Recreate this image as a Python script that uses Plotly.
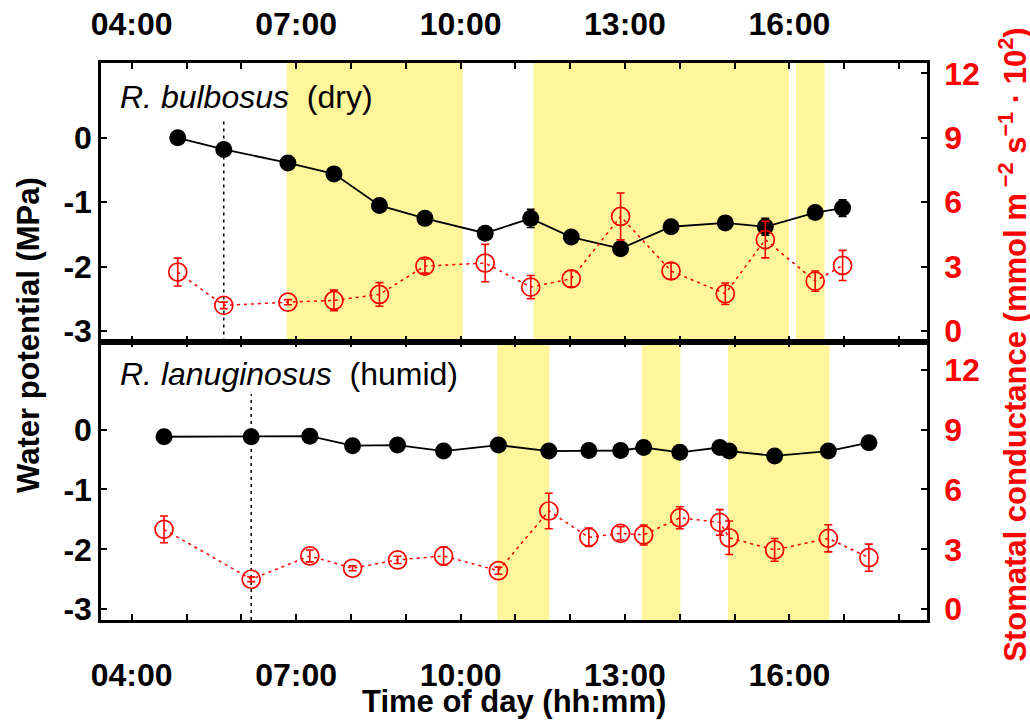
import plotly.graph_objects as go

# ---------------- data ----------------
# Top panel: R. bulbosus (dry)
t_dry = [4.84, 5.68, 6.85, 7.69, 8.52, 9.35, 10.45, 11.28, 12.02, 12.92, 13.84, 14.83, 15.56, 16.47, 16.97]
wp_dry = [0.0, -0.18, -0.39, -0.56, -1.05, -1.25, -1.48, -1.25, -1.54, -1.72, -1.38, -1.32, -1.38, -1.16, -1.09]
wp_dry_err = [0.05, 0.05, 0.05, 0.05, 0.06, 0.05, 0.05, 0.14, 0.05, 0.05, 0.05, 0.05, 0.13, 0.05, 0.13]
gs_dry = [2.75, 1.20, 1.35, 1.43, 1.71, 3.03, 3.17, 2.05, 2.44, 5.34, 2.80, 1.74, 4.26, 2.33, 3.06]
gs_dry_err = [0.65, 0.15, 0.12, 0.48, 0.55, 0.33, 0.87, 0.54, 0.37, 1.09, 0.37, 0.50, 0.85, 0.47, 0.70]
sun_dry = [(6.83, 10.04), (11.33, 15.99), (16.12, 16.64)]
predawn_dry_top = 0.31

# Bottom panel: R. lanuginosus (humid)
t_hum = [4.59, 6.18, 7.25, 8.03, 8.85, 9.69, 10.69, 11.61, 12.34, 12.92, 13.34, 14.0, 14.73, 14.90, 15.73, 16.71, 17.45]
wp_hum = [-0.12, -0.12, -0.11, -0.27, -0.26, -0.36, -0.26, -0.36, -0.35, -0.35, -0.30, -0.38, -0.30, -0.36, -0.44, -0.36, -0.22]
wp_hum_err = [0.04] * 17
gs_hum = [4.0, 1.5, 2.67, 2.05, 2.47, 2.67, 1.93, 4.92, 3.6, 3.8, 3.72, 4.58, 4.35, 3.58, 2.97, 3.55, 2.58]
gs_hum_err = [0.67, 0.12, 0.30, 0.12, 0.18, 0.45, 0.18, 0.89, 0.46, 0.33, 0.50, 0.55, 0.64, 0.84, 0.57, 0.68, 0.68]
sun_hum = [(10.67, 11.62), (13.31, 14.01), (14.88, 16.73)]
predawn_hum_top = 0.59

x_tickvals = [4, 7, 10, 13, 16]
x_ticktext = ["04:00", "07:00", "10:00", "13:00", "16:00"]
x_minor = list(range(4, 19))
wp_ticks = [-3, -2, -1, 0]
wp_ticktext = ["-3", "-2", "-1", "0"]
gs_ticks = [0, 3, 6, 9, 12]

X_RANGE = [3.44, 18.51]
Y_TOP = [-3.16, 1.16]
Y2_TOP = [-0.48, 12.48]
Y_BOT = [-3.18, 1.47]
Y2_BOT = [-0.54, 13.41]

FONT = "Liberation Sans, Arial, sans-serif"
RED = "#FF0000"
YELLOW = "#FFF59A"

fig = go.Figure()

def add_panel(t, wp, wp_err, gs, gs_err, xa, ya, ya2):
    fig.add_trace(go.Scatter(
        x=t, y=wp, mode="lines+markers", xaxis=xa, yaxis=ya,
        line=dict(color="black", width=1.8),
        marker=dict(color="black", size=17),
        error_y=dict(type="data", array=wp_err, color="black", thickness=1.5, width=4),
        showlegend=False, hoverinfo="skip"))
    fig.add_trace(go.Scatter(
        x=t, y=gs, mode="lines+markers", xaxis=xa, yaxis=ya2,
        line=dict(color=RED, width=1.5, dash="3px,4px"),
        marker=dict(symbol="circle-open", color=RED, size=18, line=dict(width=1.7, color=RED)),
        error_y=dict(type="data", array=gs_err, color=RED, thickness=1.6, width=4),
        showlegend=False, hoverinfo="skip"))

add_panel(t_dry, wp_dry, wp_dry_err, gs_dry, gs_dry_err, "x2", "y3", "y4")
add_panel(t_hum, wp_hum, wp_hum_err, gs_hum, gs_hum_err, "x", "y", "y2")

shapes = []
for a, b in sun_dry:
    shapes.append(dict(type="rect", xref="x2", yref="y3 domain", x0=a, x1=b, y0=0, y1=1,
                       fillcolor=YELLOW, line=dict(width=0), layer="below"))
for a, b in sun_hum:
    shapes.append(dict(type="rect", xref="x", yref="y domain", x0=a, x1=b, y0=0, y1=1,
                       fillcolor=YELLOW, line=dict(width=0), layer="below"))
shapes.append(dict(type="line", xref="x2", yref="y3", x0=t_dry[1], x1=t_dry[1],
                   y0=Y_TOP[0], y1=predawn_dry_top, line=dict(color="black", width=1.5, dash="3px,4px"), layer="below"))
shapes.append(dict(type="line", xref="x", yref="y", x0=t_hum[1], x1=t_hum[1],
                   y0=Y_BOT[0], y1=predawn_hum_top, line=dict(color="black", width=1.5, dash="3px,4px"), layer="below"))

tickfont_k = dict(family=FONT, size=32, color="black", weight="bold")
tickfont_r = dict(family=FONT, size=32, color=RED, weight="bold")

xcommon = dict(range=X_RANGE, tickmode="array", tickvals=x_tickvals, ticktext=x_ticktext,
               ticks="inside", ticklen=6, tickwidth=1.5, tickcolor="black",
               minor=dict(tickmode="array", tickvals=x_minor, ticks="inside", ticklen=6, tickwidth=1.5, tickcolor="black"),
               showline=True, linecolor="black", linewidth=2.5, mirror="ticks",
               showgrid=False, zeroline=False, tickfont=tickfont_k, automargin=False)

ycommon_l = dict(tickmode="array", tickvals=wp_ticks, ticktext=wp_ticktext, ticks="inside", ticklen=6, tickwidth=1.5,
                 tickcolor="black", showline=True, linecolor="black", linewidth=2.5, showgrid=False, zeroline=False,
                 tickfont=tickfont_k, ticklabelstandoff=0, automargin=False)
ycommon_r = dict(tickmode="array", tickvals=gs_ticks, ticks="inside", ticklen=6, tickwidth=1.5, tickcolor="black",
                 showline=True, linecolor="black", linewidth=2.5, showgrid=False, zeroline=False,
                 tickfont=tickfont_r, side="right", ticklabelstandoff=8, automargin=False)

fig.update_layout(
    width=1030, height=722, autosize=False,
    margin=dict(l=101, r=103, t=63, b=102, autoexpand=False),
    paper_bgcolor="white", plot_bgcolor="white",
    font=dict(family=FONT, color="black"),
    xaxis=dict(domain=[0, 1], anchor="y", side="bottom", ticklabelstandoff=25, **xcommon),
    xaxis2=dict(domain=[0, 1], anchor="y3", side="top", matches="x", ticklabelstandoff=12, **xcommon),
    yaxis=dict(domain=[0, 0.5], anchor="x", range=Y_BOT, **ycommon_l),
    yaxis2=dict(overlaying="y", anchor="x", range=Y2_BOT, **ycommon_r),
    yaxis3=dict(domain=[0.5, 1], anchor="x2", range=Y_TOP, **ycommon_l),
    yaxis4=dict(overlaying="y3", anchor="x2", range=Y2_TOP, **ycommon_r),
    shapes=shapes,
    annotations=[
        dict(text="<i>R. bulbosus</i>\u00a0 (dry)", xref="paper", yref="paper", x=0.02, y=0.939,
             xanchor="left", yanchor="middle", showarrow=False, font=dict(family=FONT, size=32, color="black")),
        dict(text="<i>R. lanuginosus</i>\u00a0 (humid)", xref="paper", yref="paper", x=0.02, y=0.4417,
             xanchor="left", yanchor="middle", showarrow=False, font=dict(family=FONT, size=32, color="black")),
        dict(text="Water potential (MPa)", xref="paper", yref="paper", x=-0.087, y=0.512,
             xanchor="center", yanchor="middle", textangle=-90, showarrow=False,
             font=dict(family=FONT, size=31, color="black", weight="bold")),
        dict(text="Stomatal conductance (mmol m<sup> \u22122</sup> s<sup>\u22121</sup> \u00b7 10<sup>2</sup>)",
             xref="paper", yref="paper", x=1.104, y=0.494, xanchor="center", yanchor="middle",
             textangle=-90, showarrow=False, font=dict(family=FONT, size=31, color=RED, weight="bold")),
        dict(text="Time of day (hh:mm)", xref="paper", yref="paper", x=0.5, y=-0.146,
             xanchor="center", yanchor="middle", showarrow=False,
             font=dict(family=FONT, size=31, color="black", weight="bold")),
    ],
)

fig.write_html("out.html", config={"displayModeBar": False},
               post_script="document.body.style.margin='0px';document.body.style.padding='0px';")
